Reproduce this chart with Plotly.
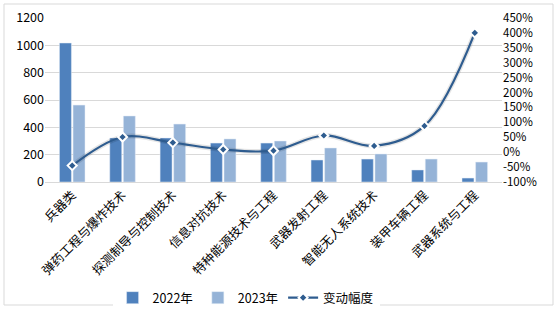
import plotly.graph_objects as go

categories = ["兵器类", "弹药工程与爆炸技术", "探测制导与控制技术", "信息对抗技术",
              "特种能源技术与工程", "武器发射工程", "智能无人系统技术", "装甲车辆工程", "武器系统与工程"]
v2022 = [1017, 322, 322, 285, 285, 161, 168, 88, 29]
v2023 = [563, 483, 424, 315, 300, 249, 205, 168, 146]
change_pct = [-45, 51, 32, 9, 5, 56, 21, 88, 400]

left_ticks = [0, 200, 400, 600, 800, 1000, 1200]
right_ticks = list(range(-100, 451, 50))

FONT = "Noto Sans CJK SC"
W, H = 558, 311
L, R, T, B = 45, 56, 18, 129

fig = go.Figure()
fig.add_trace(go.Bar(x=categories, y=v2022, name="2022年", marker_color="#4F81BD"))
fig.add_trace(go.Bar(x=categories, y=v2023, name="2023年", marker_color="#95B3D7"))
# shadow line
fig.add_trace(go.Scatter(x=categories, y=change_pct, yaxis="y2", mode="lines",
                         line=dict(color="rgba(0,0,0,0.10)", width=5, shape="spline", smoothing=1.0),
                         showlegend=False, hoverinfo="skip"))
fig.add_trace(go.Scatter(x=categories, y=change_pct, yaxis="y2", name="变动幅度",
                         mode="lines+markers",
                         line=dict(color="#2E5C8F", width=2.2, shape="spline", smoothing=1.0),
                         marker=dict(symbol="diamond", size=7, color="#2E5C8F",
                                     line=dict(color="white", width=2))))

pw = W - L - R
ph = H - T - B
fig.add_shape(type="rect", xref="paper", yref="paper",
              x0=(4 - L) / pw, x1=(553 - L) / pw,
              y0=-(305 - (H - B)) / ph, y1=1 + (T - 4) / ph,
              line=dict(color="#D9D9D9", width=1), layer="below")

fig.update_layout(
    width=W, height=H,
    margin=dict(l=L, r=R, t=T, b=B, autoexpand=False),
    paper_bgcolor="white", plot_bgcolor="white",
    font=dict(family=FONT, size=12, color="#000000"),
    barmode="group", bargap=0.46, bargroupgap=0.12,
    xaxis=dict(tickangle=-45, tickfont=dict(size=12.5, family=FONT), showgrid=False,
               showline=True, linecolor="#D9D9D9", ticks="", automargin=False),
    yaxis=dict(range=[0, 1200], tickvals=left_ticks, showgrid=True, gridcolor="#D9D9D9",
               zeroline=False, tickfont=dict(size=12.5, family=FONT), ticks="", automargin=False),
    yaxis2=dict(overlaying="y", side="right", range=[-100, 450], tickvals=right_ticks,
                ticktext=[f"{v}%" for v in right_ticks], showgrid=False, zeroline=False,
                tickfont=dict(size=11.5, family=FONT), ticks="", automargin=False),
    legend=dict(orientation="h", x=0.44, xanchor="center", y=-(292 - 182 - 9) / ph,
                yanchor="top", font=dict(size=12.5, family=FONT), traceorder="normal",
                itemwidth=30, tracegroupgap=0),
    showlegend=True,
)

fig.write_html("out.html")
